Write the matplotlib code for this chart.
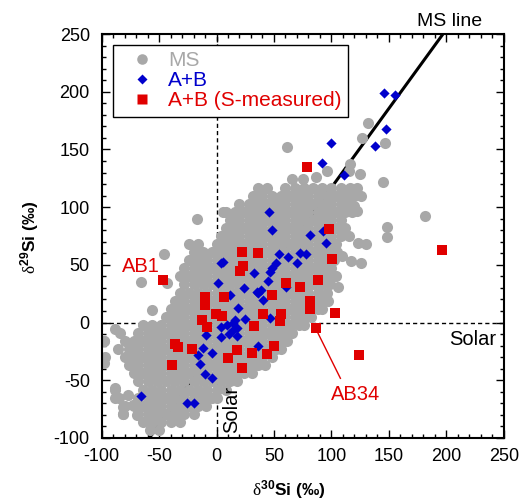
import matplotlib
matplotlib.use("Agg")
import matplotlib.pyplot as plt
from matplotlib.lines import Line2D
from matplotlib.ticker import MultipleLocator

plt.rcParams['font.family'] = ['Liberation Sans', 'DejaVu Sans']
plt.rcParams['axes.unicode_minus'] = False
plt.rcParams['mathtext.fontset'] = 'custom'
plt.rcParams['mathtext.rm'] = 'Liberation Serif'
plt.rcParams['mathtext.bf'] = 'Liberation Sans:bold'
plt.rcParams['mathtext.it'] = 'Liberation Sans:italic'

# ---------------- data ----------------
# MS grains: dense core, row by row (y value, x positions)
ms_rows_y = [131, 117, 110, 103, 96, 89, 82, 75, 68, 61, 54, 47, 40, 33, 26, 19, 12, 5,
             -2, -9, -16, -23, -30, -37, -44, -51, -58, -65, -72, -79, -86, -93]
ms_rows_x = [
    [96, 115],
    [36, 44, 60, 68, 76, 84, 92, 100, 108, 116, 122],
    [32, 40, 48, 56, 64, 72, 80, 88, 96, 104, 112, 120, 126],
    [20, 28, 36, 44, 52, 60, 68, 76, 84, 92, 100, 108, 116],
    [8, 16, 24, 32, 40, 48, 56, 64, 72, 80, 88, 96, 104, 112, 118],
    [12, 20, 28, 36, 44, 52, 60, 68, 76, 84, 92, 100, 108],
    [8, 16, 24, 32, 40, 48, 56, 64, 72, 80, 88, 96, 104, 112],
    [4, 12, 20, 28, 36, 44, 52, 60, 68, 76, 84, 92, 100, 108, 115],
    [-24, -16, 0, 8, 16, 24, 32, 40, 48, 56, 64, 72, 80, 88, 96, 104],
    [-20, -12, -4, 4, 12, 20, 28, 36, 44, 52, 60, 68, 76, 84, 92, 100, 105],
    [-24, -16, -8, 0, 8, 16, 24, 32, 40, 48, 56, 64, 72, 80, 88, 96, 102],
    [-28, -20, -12, -4, 4, 12, 20, 28, 36, 44, 52, 60, 68, 76, 84, 92, 100],
    [-32, -24, -16, -8, 0, 8, 16, 24, 32, 40, 48, 56, 64, 72, 80, 88, 96, 103],
    [-28, -20, -12, -4, 4, 12, 20, 28, 36, 44, 52, 60, 68, 76, 84, 92, 99],
    [-32, -24, -16, -8, 0, 8, 16, 24, 32, 40, 48, 56, 64, 72, 80, 88, 96],
    [-36, -28, -20, -12, -4, 4, 12, 20, 28, 36, 44, 52, 60, 68, 76, 84, 92, 97],
    [-40, -32, -24, -16, -8, 0, 8, 16, 24, 32, 40, 48, 56, 64, 72, 80, 88, 92],
    [-44, -36, -28, -20, -12, -4, 4, 12, 20, 28, 36, 44, 52, 60, 68, 76, 82],
    [-64, -56, -48, -40, -32, -24, -16, -8, 0, 8, 16, 24, 32, 40, 48, 56, 64, 72, 76],
    [-84, -68, -60, -52, -44, -36, -28, -20, -12, -4, 4, 12, 20, 28, 36, 44, 52, 60, 66],
    [-98, -80, -72, -64, -56, -48, -40, -32, -24, -16, -8, 0, 8, 16, 24, 32, 40, 48, 56, 61],
    [-86, -76, -68, -60, -52, -44, -36, -28, -20, -12, -4, 4, 12, 20, 28, 36, 44, 52, 56],
    [-97, -80, -72, -64, -56, -48, -40, -32, -24, -16, -8, 0, 8, 16, 24, 32, 40, 48],
    [-76, -68, -60, -52, -44, -36, -28, -20, -12, -4, 4, 12, 20, 28, 36, 42],
    [-72, -64, -56, -48, -40, -32, -24, -16, -8, 0, 8, 16, 24, 31],
    [-68, -60, -52, -44, -36, -28, -20, -12, -4, 4, 12, 18],
    [-88, -64, -56, -48, -40, -32, -24, -16, -8, 0, 8],
    [-85, -68, -60, -52, -44, -36, -28, -20, -12, -4, 0],
    [-80, -72, -64, -56, -48, -40, -32, -24, -16, -9],
    [-81, -68, -60, -52, -44, -36, -28, -20],
    [-64, -56, -48, -40, -32],
    [-58, -50],
]
# MS grains: scattered outliers
ms_out_x = [61, 132, 127, 147, 116, 125, 145, 181, 148, 148, 120, 122, 130, 123, 126, 117,
            109, 104, 106, -17, -46, -56, -66, -43, -98, -98, -88, -88, -88, -81, -77, -73,
            -81, -69, 87, 66, 75, 14, 6]
ms_out_y = [152, 173, 160, 156, 137, 129, 122, 92, 83, 74, 101, 97, 68, 69, 52, 53,
            58, 40, 31, 90, 59, 11, 35, 34, -16, -35, -6, -57, -65, -73, -63, -71,
            -79, -80, 126, 124, 124, 92, 96]

# A+B grains
ab_x = [-65.8, -26, -19.5, 48.7, 81, 92.7, 95, 4.3, 54.2, 62.3, 72.4, 77.7, 70, 52, 48.7,
        46.4, 32.7, 44.9, 0.9, 23.7, 34.8, 39.1, 40.5, 11.6, 18.8, 46.3, 60.9, 15.9, 8.7,
        3.7, 14.4, 24.6, 11, 17.4, -9.3, 4.3, 36.2, -11.6, -16, -14.5, -3.5, -10.2, -4.3,
        145.7, 155.6, 147.8, 137.6, 99.4, 91.8, 111, 45.7, 5.7, 36, 14.5, 18]
ab_y = [-63.3, -70, -70, 79.8, 75.5, 79, 68.9, 52, 59.3, 56.4, 60.7, 59.3, 52, 51.5, 47,
        44, 42.8, 36.2, 34.7, 29.8, 26.9, 28.4, 19.7, 24, 12.5, 3.8, 31.2, 2.3, -2,
        -4, -6.3, 3.2, -9.8, -11.5, -10.7, -12.7, -20.2, -22.2, -28, -35.8, -26, -44.5, -48.2,
        199, 197.5, 167.7, 152.6, 155.6, 138.2, 128, 95.4, 52.9, 25.5, 0, -5]

# A+B grains with S measured
abs_x = [-46.4, 78.8, 97.9, 100.3, 22, 36.2, 23.2, 20.3, 60.3, 88.7, 72.4, 48.1, 6.1, -10.4,
         -10.2, 81.1, 81.7, 102.9, 40.5, 55.7, 55, -0.6, 4.9, -13, -8.7, 33, 86.3, -36.5,
         -33.4, -20.9, -38.9, 9.8, 17.4, 31.3, 43.5, 50.1, 22, 124, 196.5]
abs_y = [37, 135, 81, 55, 61, 60, 49, 45, 34.7, 37, 30.7, 23.8, 22.3, 22,
         15.6, 19, 11.6, 8.7, 7.5, 7.5, 1.7, 7.3, 6, 2.3, -4, -2.9, -4.9, -19,
         -21, -23, -37, -31, -23.7, -26, -27, -20.2, -39.3, -28.3, 63]

ms_slope, ms_intercept = 1.37, -20.0

ms_grey = '#a8a8a8'
blue = '#0000cc'
red = '#e00000'

# ---------------- figure ----------------
fig = plt.figure(figsize=(5.21, 5.04), dpi=100)
ax = fig.add_axes([0.195, 0.131, 0.772, 0.8015])

ax.set_xlim(-100, 250)
ax.set_ylim(-100, 250)

# solar reference lines
ax.axhline(0, color='black', lw=1, ls=(0, (3, 2.2)), zorder=1)
ax.axvline(0, color='black', lw=1, ls=(0, (3, 2.2)), zorder=1)

# MS line
lx = [-100, 250]
ax.plot(lx, [ms_slope * v + ms_intercept for v in lx], color='black', lw=2.2, zorder=1.5)

ms_x = []
ms_y = []
for yv, xs in zip(ms_rows_y, ms_rows_x):
    ms_x.extend(xs)
    ms_y.extend([yv] * len(xs))
ms_x.extend(ms_out_x)
ms_y.extend(ms_out_y)

ax.scatter(ms_x, ms_y, s=64, c=ms_grey, marker='o', linewidths=0, zorder=2)
ax.scatter(ab_x, ab_y, s=27, c=blue, marker='D', linewidths=0, zorder=3)
ax.scatter(abs_x, abs_y, s=58, c=red, marker='s', linewidths=0, zorder=4)

# annotations
ax.text(203, 257, 'MS line', fontsize=14, ha='center', va='baseline', clip_on=False)
ax.text(243.7, -6.3, 'Solar', fontsize=14.5, ha='right', va='top')
ax.text(13.3, -95.7, 'Solar', fontsize=14.5, ha='center', va='bottom', rotation=90)
ax.text(-65.8, 48.7, 'AB1', fontsize=14.5, color=red, ha='center', va='center')
ax.text(121, -62.7, 'AB34', fontsize=14.5, color=red, ha='center', va='center')
ax.plot([88.3, 107.8], [-9.2, -48.3], color=red, lw=1, zorder=5)

# ticks
ax.xaxis.set_major_locator(MultipleLocator(50))
ax.yaxis.set_major_locator(MultipleLocator(50))
ax.xaxis.set_minor_locator(MultipleLocator(10))
ax.yaxis.set_minor_locator(MultipleLocator(10))
ax.tick_params(which='both', direction='in', top=True, right=True, width=1, color='black')
ax.tick_params(which='major', length=6)
ax.tick_params(which='minor', length=3)
ax.tick_params(axis='x', which='major', labelsize=13, pad=7)
ax.tick_params(axis='y', which='major', labelsize=13, pad=8.5)
for sp in ax.spines.values():
    sp.set_linewidth(1.5)

# axis labels
fig.text(289 / 521, 1 - 490 / 504, r'$\mathrm{\delta}^{\mathbf{30}}\mathbf{Si\ (‰)}$',
         fontsize=12.5, ha='center', va='center')
fig.text(30 / 521, 1 - 237 / 504, r'$\mathrm{\delta}^{\mathbf{29}}\mathbf{Si\ (‰)}$',
         fontsize=12.5, ha='center', va='center', rotation=90)

# legend
handles = [
    Line2D([], [], ls='none', marker='o', ms=7.6, mfc=ms_grey, mec='none'),
    Line2D([], [], ls='none', marker='D', ms=5.2, mfc=blue, mec='none'),
    Line2D([], [], ls='none', marker='s', ms=7.6, mfc=red, mec='none'),
]
labels = ['MS', 'A+B', 'A+B (S-measured)']
leg = ax.legend(handles, labels, loc='upper left', bbox_to_anchor=(0.028, 0.973),
                borderaxespad=0, fontsize=15, frameon=True, fancybox=False,
                edgecolor='black', framealpha=1, borderpad=0.3, labelspacing=0.05,
                handlelength=2.2, handletextpad=0.15)
leg.get_frame().set_linewidth(1)
for t, col in zip(leg.get_texts(), [ms_grey, blue, red]):
    t.set_color(col)

fig.savefig('out.png', dpi=100, facecolor='white')
